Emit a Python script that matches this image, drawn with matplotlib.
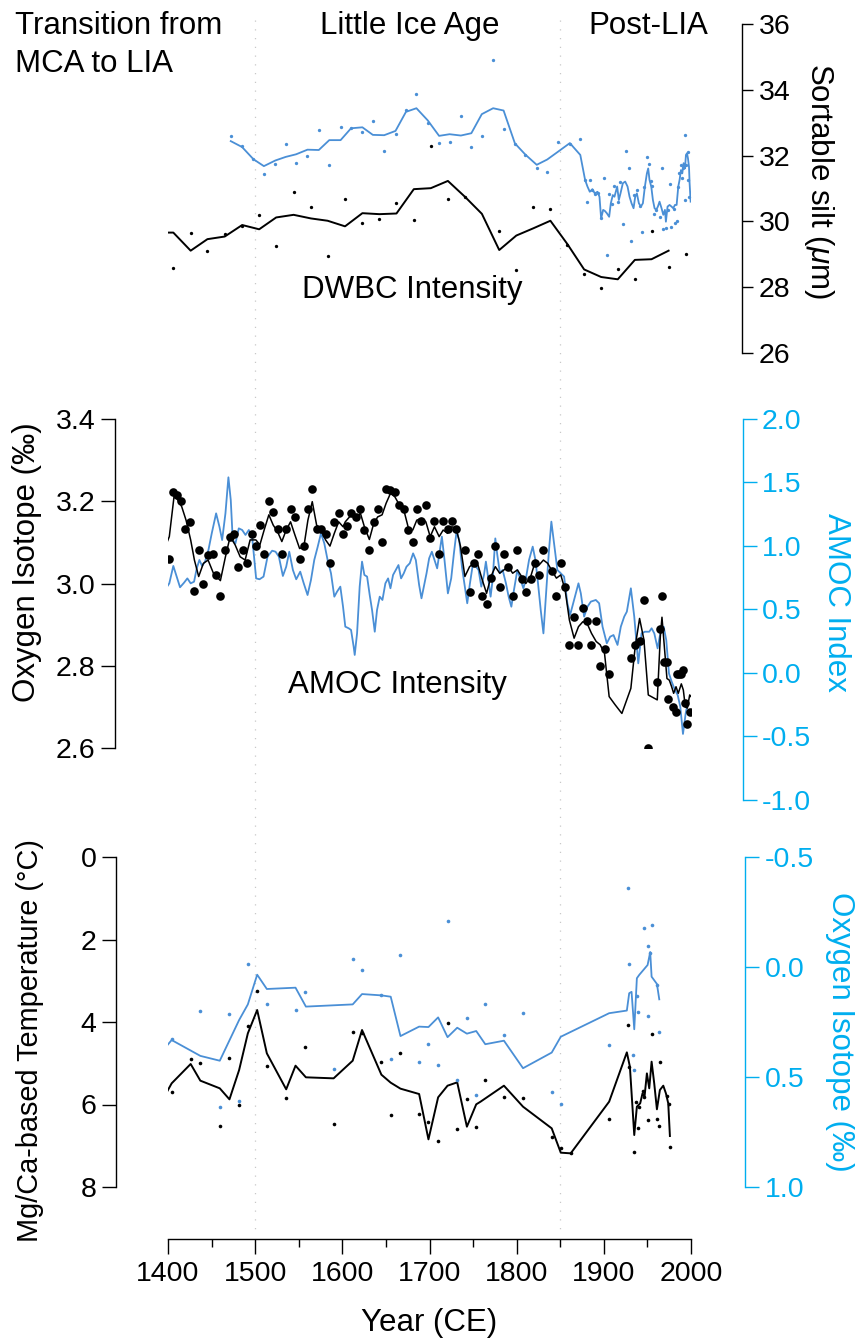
import numpy as np
import matplotlib
matplotlib.use('Agg')
import matplotlib.pyplot as plt

# ======================== data ==========================
# top panel: sortable silt (um)
silt_blue_line_year = [1472, 1485, 1498, 1510, 1523, 1535, 1547, 1560, 1573, 1585, 1598, 1610, 1623,
                       1635, 1648, 1661, 1673, 1685, 1698, 1711, 1723, 1736, 1748, 1760, 1773, 1785,
                       1798, 1810, 1823, 1835, 1847, 1861, 1873,
                       1878.5, 1881.2, 1883.9, 1886.9, 1889.6, 1892.7, 1895.0, 1896.9, 1899.2, 1901.1,
                       1903.4, 1906.1, 1908.0, 1910.3, 1912.2, 1915.3, 1917.2, 1919.1, 1921.8, 1924.5,
                       1927.2, 1929.5, 1931.8, 1934.1, 1936.0, 1937.9, 1940.2, 1942.5, 1944.8, 1947.1,
                       1949.4, 1950.9, 1952.4, 1954.4, 1956.3, 1958.2, 1960.1, 1962.0, 1963.9, 1966.2,
                       1968.2, 1970.1, 1971.2, 1973.1, 1975.4, 1977.7, 1979.6, 1981.6, 1983.5, 1985.4,
                       1986.9, 1988.5, 1990.0, 1991.5, 1993.1, 1994.2, 1995.4, 1996.5, 1997.7, 1998.4,
                       1999.6]
silt_blue_line = [32.44, 32.26, 31.89, 31.68, 31.85, 31.96, 32.04, 32.18, 32.17, 32.47, 32.47, 32.83,
                  32.86, 32.63, 32.62, 32.75, 33.33, 33.44, 33.07, 32.60, 32.65, 32.61, 32.68, 33.26,
                  33.44, 33.37, 32.37, 32.03, 31.72, 31.88, 32.11, 32.38, 32.02,
                  31.26, 31.06, 30.90, 30.98, 30.85, 30.90, 30.75, 30.09, 30.35, 30.32, 30.25, 30.14,
                  30.55, 30.80, 30.75, 31.06, 30.65, 30.85, 31.16, 31.21, 31.06, 30.75, 30.55, 30.40,
                  30.75, 30.85, 30.55, 30.45, 30.55, 31.06, 31.46, 31.61, 31.26, 31.06, 30.65, 30.40,
                  30.35, 30.45, 30.60, 30.40, 30.20, 30.35, 29.99, 30.45, 30.50, 30.45, 30.40, 30.50,
                  30.50, 31.06, 31.26, 31.56, 31.46, 31.77, 31.61, 32.02, 32.07, 31.92, 31.66, 31.16,
                  30.60]
silt_blue_dot_year = [1472, 1485, 1498, 1510, 1523, 1535, 1547, 1560, 1573, 1585, 1598, 1610, 1623,
                      1635, 1648, 1661, 1673, 1685, 1698, 1711, 1723, 1736, 1748, 1760, 1773, 1785,
                      1798, 1810, 1823, 1835, 1847, 1861, 1873,
                      1878.5, 1883.9, 1881.2, 1886.9, 1889.6, 1893.8, 1900.0, 1896.9, 1903.4, 1906.1,
                      1909.5, 1912.2, 1916.1, 1919.1, 1921.8, 1925.2, 1928.3, 1931.0, 1934.8, 1937.5,
                      1941.0, 1943.6, 1946.3, 1949.0, 1951.3, 1953.6, 1955.1, 1957.8, 1960.1, 1964.0,
                      1966.2, 1968.2, 1970.8, 1973.1, 1975.4, 1977.3, 1980.0, 1982.0, 1984.2, 1985.0,
                      1986.5, 1988.1, 1989.2, 1990.8, 1992.7, 1993.4, 1994.6, 1996.1, 1996.9, 1998.0]
silt_blue_dot = [32.59, 32.28, 31.89, 31.44, 31.74, 32.36, 31.77, 31.98, 32.79, 31.71, 32.88, 32.83,
                 32.72, 33.04, 32.15, 32.67, 33.40, 33.88, 33.00, 32.37, 32.40, 33.19, 32.26, 32.59,
                 34.91, 32.80, 32.36, 32.03, 31.63, 31.51, 32.41, 32.35, 32.50,
                 31.25, 31.27, 30.60, 30.95, 30.83, 30.85, 31.33, 30.09, 28.99, 30.84, 30.52, 31.09,
                 30.60, 31.21, 29.92, 32.15, 31.61, 29.39, 30.80, 30.94, 30.46, 29.68, 31.06, 31.96,
                 31.74, 31.23, 31.07, 30.22, 30.36, 30.14, 31.63, 29.78, 29.80, 30.35, 31.13, 29.83,
                 30.38, 29.95, 30.00, 31.06, 31.46, 31.71, 31.33, 31.63, 30.66, 32.62, 31.71, 31.25,
                 32.11, 30.74]
silt_black_line_year = [1397.7, 1406.1, 1426.0, 1445.2, 1465.1, 1485.1, 1504.6, 1524.1, 1544.1,
                        1564.0, 1583.1, 1603.1, 1623.0, 1642.5, 1662.1, 1682.0, 1701.5, 1721.1,
                        1740.6, 1760.1, 1780.0, 1799.6, 1819.1, 1838.7, 1858.2, 1877.4, 1896.9,
                        1916.0, 1935.6, 1954.7, 1974.3]
silt_black_line = [29.66, 29.66, 29.11, 29.46, 29.54, 29.89, 29.76, 30.12, 30.20, 30.09, 30.02,
                   29.85, 30.25, 30.22, 30.24, 30.98, 31.01, 31.23, 30.75, 30.23, 29.13, 29.57,
                   29.79, 30.02, 29.31, 28.54, 28.31, 28.24, 28.83, 28.85, 29.11]
silt_black_dot_year = [1405.7, 1426.0, 1445.2, 1465.1, 1485.1, 1504.6, 1524.1, 1544.1, 1564.0,
                       1583.1, 1603.1, 1623.0, 1642.5, 1662.1, 1682.0, 1701.5, 1721.1, 1740.6,
                       1780.0, 1799.6, 1819.1, 1838.7, 1858.2, 1877.4, 1896.9, 1916.0, 1935.6,
                       1954.7, 1974.3, 1994.2]
silt_black_dot = [28.59, 29.65, 29.10, 29.62, 29.87, 30.20, 29.24, 30.88, 30.45, 28.95, 30.69,
                  29.94, 30.08, 30.57, 30.03, 32.29, 30.68, 30.73, 29.71, 28.52, 30.44, 30.37,
                  29.29, 28.40, 27.97, 28.54, 28.24, 29.72, 28.61, 29.01]

# middle panel: oxygen isotope (permil) and AMOC index
d18o_dot_year = [1400.8, 1405.4, 1410.0, 1414.6, 1419.9, 1425.3, 1430.3, 1435.2, 1440.6, 1446.0,
                 1451.3, 1455.6, 1460.1, 1465.9, 1471.3, 1475.9, 1480.5, 1485.8, 1490.8, 1495.8,
                 1500.8, 1505.4, 1510.3, 1515.7, 1520.7, 1525.7, 1530.6, 1535.6, 1540.6, 1545.6,
                 1551.0, 1555.9, 1560.5, 1565.5, 1570.5, 1575.5, 1580.8, 1585.8, 1590.8, 1595.8,
                 1600.4, 1605.4, 1610.3, 1615.3, 1620.7, 1625.3, 1631.0, 1636.0, 1640.6, 1645.6,
                 1650.2, 1655.2, 1660.2, 1665.5, 1670.5, 1675.9, 1680.8, 1685.4, 1690.8, 1695.8,
                 1700.8, 1705.7, 1711.1, 1715.7, 1720.7, 1725.7, 1730.6, 1740.6, 1746.0, 1751.0,
                 1755.6, 1760.5, 1765.5, 1770.5, 1775.5, 1780.5, 1785.4, 1790.4, 1795.4, 1800.8,
                 1805.7, 1810.5, 1816.1, 1820.7, 1825.7, 1830.7, 1841.0, 1845.6, 1850.6, 1855.6,
                 1860.5, 1865.9, 1870.9, 1875.9, 1880.8, 1885.8, 1891.2, 1895.8, 1900.8, 1906.1,
                 1931.0, 1936.0, 1941.0, 1946.0, 1950.6, 1961.3, 1964.8, 1966.7, 1969.4, 1972.4,
                 1973.9, 1978.9, 1982.8, 1984.5, 1986.6, 1988.9, 1991.2, 1993.5, 1995.8, 1998.5]
d18o_dot = [3.060, 3.222, 3.215, 3.201, 3.132, 3.150, 2.981, 3.081, 3.000, 3.069,
            3.072, 3.021, 2.970, 3.081, 3.112, 3.120, 3.041, 3.081, 3.051, 3.120,
            3.091, 3.142, 3.071, 3.201, 3.173, 3.133, 3.071, 3.133, 3.181, 3.162,
            3.060, 3.091, 3.181, 3.231, 3.132, 3.132, 3.120, 3.051, 3.150, 3.171,
            3.120, 3.141, 3.171, 3.161, 3.181, 3.130, 3.081, 3.150, 3.181, 3.102,
            3.231, 3.227, 3.222, 3.192, 3.181, 3.130, 3.102, 3.181, 3.151, 3.192,
            3.111, 3.151, 3.072, 3.151, 3.132, 3.151, 3.132, 3.081, 2.980, 3.051,
            3.072, 2.970, 2.949, 3.013, 3.092, 2.991, 3.071, 3.041, 2.970, 3.081,
            3.010, 2.980, 3.010, 3.051, 3.021, 3.081, 3.031, 2.970, 3.051, 2.991,
            2.850, 2.919, 2.850, 2.940, 2.910, 2.850, 2.910, 2.799, 2.840, 2.779,
            2.820, 2.850, 2.860, 2.960, 2.599, 2.760, 2.889, 2.970, 2.810, 2.810,
            2.719, 2.699, 2.688, 2.779, 2.779, 2.779, 2.790, 2.709, 2.658, 2.688]
d18o_line_year = [1397.7, 1401.5, 1406.9, 1410.7, 1415.7, 1420.7, 1426.0, 1430.3, 1435.2, 1440.6,
                  1446.0, 1452.1, 1460.1, 1465.9, 1471.3, 1477.0, 1482.8, 1488.5, 1494.2, 1500.8,
                  1505.4, 1510.3, 1515.7, 1520.7, 1525.7, 1530.6, 1535.6, 1540.6, 1545.6, 1551.0,
                  1555.9, 1560.5, 1565.5, 1570.5, 1575.5, 1580.8, 1585.8, 1590.8, 1595.8, 1600.8,
                  1603.4, 1610.3, 1615.3, 1620.7, 1625.3, 1631.0, 1636.0, 1640.6, 1645.6, 1650.2,
                  1655.2, 1660.2, 1665.5, 1670.5, 1675.9, 1680.8, 1685.4, 1690.8, 1695.8, 1700.8,
                  1705.7, 1711.1, 1715.7, 1720.7, 1725.7, 1730.6, 1735.6, 1740.6, 1746.0, 1751.0,
                  1755.6, 1760.5, 1765.5, 1770.5, 1775.5, 1780.5, 1785.4, 1790.4, 1795.4, 1800.8,
                  1805.7, 1810.5, 1816.1, 1820.7, 1825.7, 1830.7, 1835.6, 1841.0, 1845.6, 1850.6,
                  1855.6, 1860.5, 1865.9, 1870.9, 1875.9, 1880.8, 1885.8, 1891.2, 1895.8, 1900.8,
                  1906.1, 1913.0, 1920.7, 1931.0, 1936.0, 1941.0, 1946.0, 1951.0, 1961.3, 1964.8,
                  1966.7, 1969.4, 1972.4, 1975.1, 1977.8, 1980.1, 1982.8, 1985.4, 1988.9, 1991.2,
                  1993.5, 1995.8, 1998.5, 2000.0]
d18o_line = [3.094, 3.114, 3.211, 3.205, 3.187, 3.154, 3.106, 3.057, 3.017, 3.049,
             3.057, 3.025, 3.007, 3.065, 3.114, 3.094, 3.065, 3.057, 3.106, 3.106,
             3.094, 3.130, 3.167, 3.142, 3.126, 3.102, 3.130, 3.150, 3.118, 3.085,
             3.090, 3.154, 3.199, 3.142, 3.130, 3.106, 3.091, 3.122, 3.150, 3.138,
             3.150, 3.167, 3.158, 3.171, 3.138, 3.107, 3.146, 3.162, 3.167, 3.195,
             3.219, 3.211, 3.191, 3.179, 3.134, 3.130, 3.154, 3.158, 3.150, 3.114,
             3.138, 3.114, 3.130, 3.122, 3.138, 3.134, 3.090, 3.017, 3.041, 3.049,
             3.045, 3.009, 2.976, 3.017, 3.041, 3.025, 3.033, 3.041, 3.025, 3.033,
             3.017, 3.000, 3.017, 3.049, 3.045, 3.057, 3.049, 3.029, 3.013, 3.021,
             2.984, 2.911, 2.867, 2.895, 2.907, 2.903, 2.879, 2.859, 2.851, 2.830,
             2.725, 2.705, 2.684, 2.745, 2.847, 2.915, 2.863, 2.729, 2.717, 2.871,
             2.918, 2.847, 2.769, 2.765, 2.749, 2.733, 2.749, 2.733, 2.756, 2.741,
             2.700, 2.697, 2.729, 2.725]
amoc_year = [1398.5, 1401.5, 1406.1, 1410.0, 1413.8, 1418.4, 1422.2, 1426.0, 1429.9, 1433.0,
             1436.0, 1439.1, 1442.5, 1446.4, 1450.2, 1455.2, 1459.0, 1462.1, 1465.9, 1469.3,
             1472.0, 1474.3, 1477.4, 1481.2, 1485.1, 1488.9, 1492.7, 1496.5, 1501.1, 1505.0,
             1509.6, 1514.2, 1519.5, 1523.4, 1527.2, 1531.8, 1535.6, 1539.1, 1543.3, 1547.1,
             1551.7, 1555.5, 1560.1, 1564.0, 1567.8, 1571.6, 1575.5, 1579.3, 1583.1, 1587.0,
             1590.8, 1593.9, 1597.7, 1600.8, 1603.4, 1607.3, 1610.0, 1613.0, 1614.2, 1616.9,
             1619.9, 1622.6, 1625.3, 1628.4, 1631.4, 1634.1, 1637.2, 1639.8, 1642.9, 1646.0,
             1649.4, 1652.5, 1655.2, 1658.2, 1661.3, 1664.4, 1667.4, 1670.5, 1673.6, 1677.4,
             1681.2, 1684.3, 1688.1, 1690.8, 1693.5, 1696.6, 1699.6, 1702.7, 1705.7, 1708.8,
             1711.9, 1714.2, 1717.2, 1721.1, 1724.9, 1728.0, 1731.0, 1734.1, 1737.2, 1740.2,
             1743.3, 1746.4, 1750.2, 1753.3, 1756.3, 1759.4, 1762.5, 1764.7, 1767.1, 1770.1,
             1772.4, 1775.5, 1777.8, 1780.8, 1783.9, 1787.7, 1790.8, 1793.9, 1796.9, 1800.8,
             1804.6, 1807.7, 1810.3, 1814.2, 1818.4, 1821.5, 1824.5, 1827.6, 1830.7, 1833.7,
             1836.8, 1839.8, 1842.9, 1846.7, 1850.6, 1854.4, 1858.2, 1861.3, 1865.9, 1870.9,
             1873.6, 1877.4, 1881.2, 1885.1, 1890.8, 1894.6, 1898.5, 1903.4, 1907.3, 1911.1,
             1915.7, 1919.5, 1923.4, 1926.4, 1931.0, 1934.9, 1939.5, 1943.3, 1947.1, 1952.1,
             1954.8, 1957.9, 1961.7, 1965.5, 1968.6, 1971.6, 1974.7, 1977.8, 1981.6, 1984.7,
             1987.7, 1990.8, 1993.9, 1995.4]
amoc = [0.675, 0.706, 0.843, 0.759, 0.675, 0.711, 0.745, 0.706, 0.719, 0.824,
        0.890, 0.843, 0.877, 0.969, 1.100, 1.257, 1.152, 1.047, 1.257, 1.541,
        1.362, 1.047, 1.021, 1.139, 1.126, 1.087, 1.126, 1.074, 0.745, 0.738,
        0.759, 0.916, 0.963, 0.955, 0.916, 0.764, 0.837, 0.955, 0.811, 0.738,
        0.798, 0.711, 0.614, 0.732, 0.890, 0.990, 1.100, 1.021, 0.890, 0.785,
        0.601, 0.640, 0.680, 0.522, 0.365, 0.352, 0.339, 0.207, 0.142, 0.312,
        0.680, 0.877, 0.772, 0.759, 0.614, 0.496, 0.325, 0.496, 0.601, 0.575,
        0.706, 0.745, 0.667, 0.772, 0.811, 0.850, 0.745, 0.785, 0.837, 0.864,
        0.942, 0.890, 0.693, 0.588, 0.680, 0.785, 0.903, 0.955, 0.890, 0.824,
        0.969, 1.074, 0.890, 0.627, 0.745, 0.942, 1.113, 1.047, 0.837, 0.693,
        0.549, 0.706, 0.877, 0.837, 0.811, 0.680, 0.772, 0.877, 0.759, 0.601,
        0.732, 1.060, 0.929, 0.785, 0.811, 0.706, 0.601, 0.522, 0.654, 0.811,
        0.732, 0.667, 0.732, 0.890, 0.995, 0.890, 0.706, 0.496, 0.312, 0.627,
        0.942, 1.192, 1.021, 0.811, 0.785, 0.759, 0.549, 0.457, 0.575, 0.706,
        0.627, 0.444, 0.522, 0.562, 0.575, 0.549, 0.365, 0.234, 0.286, 0.299,
        0.221, 0.365, 0.444, 0.483, 0.667, 0.444, 0.076, 0.312, 0.325, 0.325,
        0.352, 0.312, 0.194, 0.339, 0.365, 0.260, -0.003, -0.068, -0.134, -0.173,
        -0.265, -0.480, -0.318, -0.265]

# bottom panel: Mg/Ca temperature (deg C) and oxygen isotope (permil)
temp_line_year = [1398.5, 1404.2, 1426.0, 1437.1, 1459.4, 1470.5, 1481.6, 1491.6, 1502.3, 1513.4,
                  1535.6, 1546.3, 1558.2, 1590.0, 1611.9, 1622.6, 1644.8, 1655.5, 1666.7, 1688.1,
                  1698.8, 1709.9, 1720.7, 1731.8, 1742.9, 1753.6, 1758.6, 1785.4, 1807.3, 1840.2,
                  1850.6, 1862.0, 1906.1, 1926.4, 1929.9, 1934.9, 1937.9, 1941.7, 1944.4, 1946.7,
                  1949.4, 1952.1, 1954.8, 1957.8, 1960.9, 1964.3, 1968.2, 1971.2, 1973.9, 1975.8]
temp_line = [5.705, 5.487, 5.018, 5.422, 5.608, 5.875, 5.164, 4.275, 3.709, 4.760,
             5.632, 5.059, 5.341, 5.366, 4.938, 4.194, 5.277, 5.471, 5.616, 5.746,
             6.845, 5.826, 5.544, 5.463, 6.538, 5.996, 5.931, 5.544, 6.053, 6.578,
             7.168, 7.184, 5.931, 4.736, 5.083, 6.740, 6.053, 5.972, 5.729, 5.810,
             5.245, 5.608, 4.962, 5.487, 6.117, 5.649, 5.544, 5.729, 5.972, 6.764]
temp_dot_year = [1404.2, 1426.4, 1437.1, 1459.4, 1470.5, 1481.6, 1491.6, 1502.3, 1513.4, 1535.6,
                 1557.5, 1590.0, 1611.9, 1622.6, 1644.8, 1655.5, 1666.7, 1688.1, 1698.8, 1709.9,
                 1720.7, 1731.8, 1742.9, 1753.6, 1764.0, 1785.4, 1807.3, 1841.0, 1850.6, 1862.0,
                 1906.1, 1927.2, 1929.1, 1934.9, 1936.8, 1938.7, 1940.6, 1944.4, 1946.3, 1950.6,
                 1954.8, 1960.9, 1962.8, 1964.7, 1972.4, 1974.3, 1975.8]
temp_dot = [5.697, 4.905, 4.986, 6.513, 4.873, 6.020, 4.089, 3.241, 5.059, 5.843,
            4.606, 6.473, 4.235, 4.275, 4.978, 6.263, 4.760, 6.230, 6.424, 6.885,
            4.032, 6.586, 5.875, 6.554, 5.406, 5.810, 5.834, 6.780, 7.063, 7.184,
            6.360, 4.065, 5.083, 7.144, 5.931, 6.578, 6.053, 5.665, 5.810, 6.376,
            4.299, 6.360, 6.521, 4.970, 5.794, 5.988, 7.023]
iso_line_year = [1398.5, 1404.2, 1437.1, 1459.4, 1481.6, 1491.6, 1502.3, 1513.4, 1546.3, 1558.2,
                 1611.9, 1622.6, 1644.8, 1655.5, 1666.7, 1688.1, 1698.8, 1709.9, 1720.7, 1731.8,
                 1742.9, 1753.6, 1764.0, 1785.4, 1807.3, 1840.2, 1850.6, 1906.1, 1926.4, 1929.1,
                 1931.8, 1934.9, 1937.9, 1940.6, 1950.2, 1953.2, 1954.8, 1960.9, 1963.6]
iso_line = [0.359, 0.332, 0.404, 0.426, 0.241, 0.170, 0.035, 0.100, 0.094, 0.180,
            0.170, 0.123, 0.129, 0.135, 0.314, 0.271, 0.273, 0.229, 0.319, 0.276,
            0.303, 0.291, 0.351, 0.335, 0.460, 0.389, 0.317, 0.210, 0.198, 0.119,
            0.113, 0.283, 0.051, 0.036, -0.009, -0.068, 0.044, 0.077, 0.147]
iso_dot_year = [1404.2, 1437.1, 1459.4, 1470.5, 1481.6, 1491.6, 1513.4, 1546.3, 1557.5, 1590.0,
                1611.9, 1622.6, 1644.8, 1655.5, 1666.7, 1688.1, 1698.8, 1709.9, 1720.7, 1731.8,
                1742.9, 1753.6, 1764.0, 1785.4, 1807.3, 1841.0, 1850.6, 1906.1, 1927.2, 1928.7,
                1932.9, 1934.1, 1937.9, 1938.7, 1945.6, 1950.2, 1950.9, 1952.9, 1954.8, 1960.9,
                1963.2]
iso_dot = [0.329, 0.201, 0.635, 0.212, 0.610, -0.012, 0.167, 0.195, 0.115, 0.462,
           -0.036, 0.013, 0.127, 0.420, -0.056, 0.430, 0.351, 0.445, -0.208, 0.514,
           0.233, 0.580, 0.168, 0.309, 0.210, 0.566, 0.623, 0.354, -0.361, -0.014,
           0.400, 0.468, 0.132, 0.203, -0.176, -0.097, 0.221, -0.065, -0.191, 0.080,
           0.297]

period_lines = [1500, 1850]

# ====================== styling ========================
W, H, DPI = 855, 1340, 100
BLUE = '#4a8fd6'
CYAN = '#00aeef'
FONT = 'Liberation Sans'
TICK_FS = 20.5
LABEL_FS = 22.5

plt.rcParams['font.family'] = [FONT, 'DejaVu Sans']
plt.rcParams['mathtext.fontset'] = 'custom'
plt.rcParams['mathtext.rm'] = FONT
plt.rcParams['mathtext.it'] = FONT + ':italic'

fig = plt.figure(figsize=(W / DPI, H / DPI), dpi=DPI, facecolor='white')

X0, X1 = 168, 691  # pixel positions of 1400 and 2000


def px_axes(y_top, y_bot):
    return fig.add_axes([X0 / W, 1 - y_bot / H, (X1 - X0) / W, (y_bot - y_top) / H])


def pts(px):
    return px * 72.0 / DPI


def style_y(ax, side, color, offset_px):
    for s in ['top', 'bottom', 'left', 'right']:
        ax.spines[s].set_visible(s == side)
    ax.spines[side].set_position(('outward', pts(offset_px)))
    ax.spines[side].set_color(color)
    ax.spines[side].set_linewidth(1.0)
    ax.yaxis.set_ticks_position(side)
    ax.tick_params(axis='y', colors=color, labelsize=TICK_FS, length=10, width=1.0, pad=4)
    ax.tick_params(axis='x', bottom=False, labelbottom=False)
    ax.set_xlim(1400, 2000)
    ax.patch.set_visible(False)


# background with the dotted period boundaries
ax_bg = fig.add_axes([X0 / W, 0, (X1 - X0) / W, 1])
ax_bg.set_xlim(1400, 2000)
ax_bg.set_ylim(H, 0)
ax_bg.axis('off')
for yr in period_lines:
    ax_bg.plot([yr, yr], [20, 1233], color='#c8c8c8', lw=0.9, ls=(0, (1.0, 6.0)))

# ---------------- top panel ----------------
ax1 = px_axes(24, 353)
style_y(ax1, 'right', 'black', 742 - X1)
ax1.set_ylim(26, 36)
ax1.set_yticks([26, 28, 30, 32, 34, 36])
ax1.tick_params(axis='y', length=8)
ax1.plot(silt_blue_line_year, silt_blue_line, color=BLUE, lw=1.3)
ax1.plot(silt_blue_dot_year, silt_blue_dot, 'o', color=BLUE, ms=2.4, mew=0)
ax1.plot(silt_black_line_year, silt_black_line, color='black', lw=1.4)
ax1.plot(silt_black_dot_year, silt_black_dot, 'o', color='black', ms=2.4, mew=0)

# ---------------- middle panel ----------------
ax2b = px_axes(419, 800)
style_y(ax2b, 'right', CYAN, 742.5 - X1)
ax2b.set_ylim(-1.0, 2.0)
ax2b.set_yticks([-1.0, -0.5, 0.0, 0.5, 1.0, 1.5, 2.0])
ax2b.set_yticklabels(['-1.0', '-0.5', '0.0', '0.5', '1.0', '1.5', '2.0'])
ax2b.plot(amoc_year, amoc, color=BLUE, lw=1.3)

ax2 = px_axes(419, 748)
style_y(ax2, 'left', 'black', X0 - 115)
ax2.set_ylim(2.6, 3.4)
ax2.set_yticks([2.6, 2.8, 3.0, 3.2, 3.4])
ax2.set_yticklabels(['2.6', '2.8', '3.0', '3.2', '3.4'])
ax2.plot(d18o_line_year, d18o_line, color='black', lw=1.1)
ax2.plot(d18o_dot_year, d18o_dot, 'o', color='black', ms=6.2, mew=0)

# ---------------- bottom panel ----------------
ax3 = px_axes(857, 1187)
style_y(ax3, 'left', 'black', X0 - 116)
ax3.set_ylim(8, 0)
ax3.set_yticks([0, 2, 4, 6, 8])
ax3.plot(temp_line_year, temp_line, color='black', lw=1.4)
ax3.plot(temp_dot_year, temp_dot, 'o', color='black', ms=2.6, mew=0)

ax3b = px_axes(857, 1187)
style_y(ax3b, 'right', CYAN, 745 - X1)
ax3b.set_ylim(1.0, -0.5)
ax3b.set_yticks([-0.5, 0.0, 0.5, 1.0])
ax3b.set_yticklabels(['-0.5', '0.0', '0.5', '1.0'])
ax3b.plot(iso_line_year, iso_line, color=BLUE, lw=1.3)
ax3b.plot(iso_dot_year, iso_dot, 'o', color=BLUE, ms=2.6, mew=0)

# x axis below bottom panel
ax3.spines['bottom'].set_visible(True)
ax3.spines['bottom'].set_position(('outward', pts(1239 - 1187)))
ax3.spines['bottom'].set_bounds(1400, 2000)
ax3.spines['bottom'].set_linewidth(1.0)
ax3.set_xticks(np.arange(1400, 2001, 100))
ax3.set_xticks(np.arange(1450, 2000, 100), minor=True)
ax3.tick_params(axis='x', which='major', bottom=True, labelbottom=True, labelsize=TICK_FS,
                length=11, width=1.0, pad=5)
ax3.tick_params(axis='x', which='minor', bottom=True, length=6, width=1.0)

# ---------------- text ----------------
def ftext(x, y, s, **kw):
    fig.text(x / W, 1 - y / H, s, **kw)


ftext(15, 34, 'Transition from', fontsize=LABEL_FS, ha='left', va='baseline')
ftext(15, 72, 'MCA to LIA', fontsize=LABEL_FS, ha='left', va='baseline')
ftext(410, 34, 'Little Ice Age', fontsize=LABEL_FS, ha='center', va='baseline')
ftext(648, 34, 'Post-LIA', fontsize=LABEL_FS, ha='center', va='baseline')
ftext(412, 298, 'DWBC Intensity', fontsize=LABEL_FS, ha='center', va='baseline')
ftext(397, 693, 'AMOC Intensity', fontsize=LABEL_FS, ha='center', va='baseline')

ftext(819, 181, r'Sortable silt ($\mu$m)', fontsize=LABEL_FS, rotation=270,
      ha='center', va='center')
ftext(27, 562, 'Oxygen Isotope (‰)', fontsize=LABEL_FS, rotation=90, ha='center', va='center')
ftext(836, 602, 'AMOC Index', fontsize=LABEL_FS, rotation=270, ha='center', va='center',
      color=CYAN)
ftext(30, 1041, 'Mg/Ca-based Temperature (°C)', fontsize=20.8, rotation=90,
      ha='center', va='center')
ftext(840, 1032, 'Oxygen Isotope (‰)', fontsize=LABEL_FS, rotation=270, ha='center',
      va='center', color=CYAN)
ftext(429, 1323, 'Year (CE)', fontsize=LABEL_FS, ha='center', va='center')

fig.savefig('out.png', dpi=DPI, facecolor='white')
